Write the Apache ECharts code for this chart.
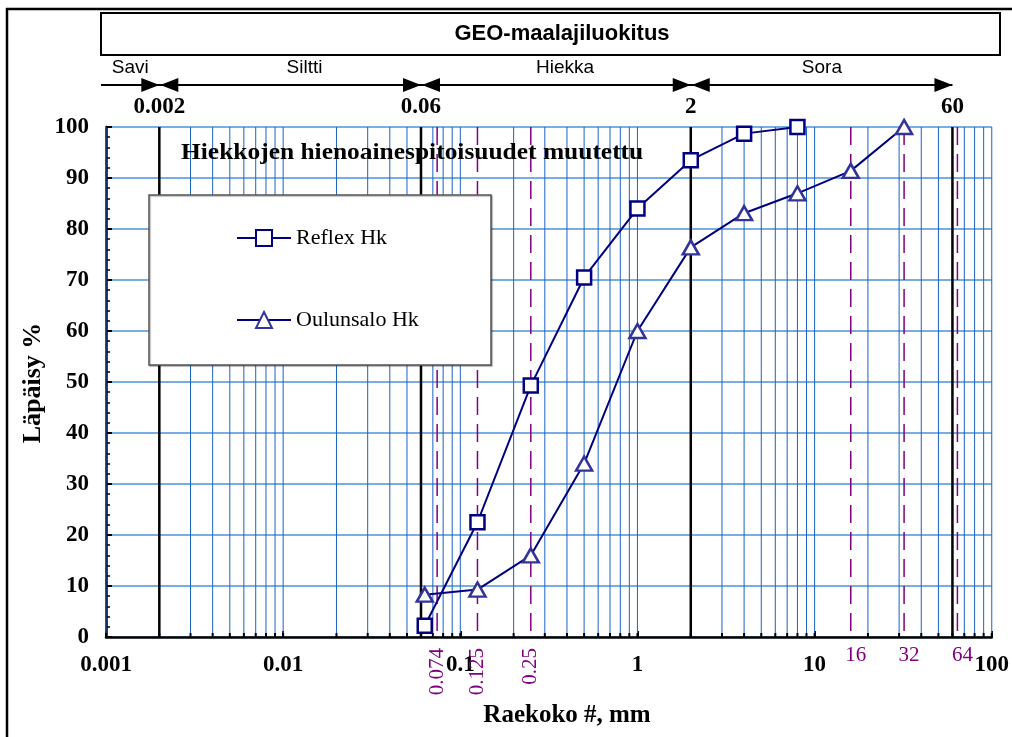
<!DOCTYPE html>
<html>
<head>
<meta charset="utf-8">
<script src="https://cdn.jsdelivr.net/npm/echarts@6/dist/echarts.min.js"></script>
<style>
html,body{margin:0;padding:0;background:#fff;}
#chart{width:1012px;height:737px;}
</style>
</head>
<body>
<div id="chart"></div>
<script>
// ---- data ----
const sieveSizes = [0.063, 0.125, 0.25, 0.5, 1, 2, 4, 8, 16, 32];
const reflexHk = [2.2, 22.5, 49.3, 70.5, 84, 93.5, 98.7, 100];
const oulunsaloHk = [8.3, 9.3, 16, 34, 60, 76.4, 83.1, 87, 91.4, 100];
const seriesNames = ['Reflex Hk', 'Oulunsalo Hk'];

// axis structure
const decades = [0.001, 0.01, 0.1, 1, 10];
const mantissas = [1, 2, 3, 4, 5, 6, 7, 8, 9];
const xTickLabels = ['0.001', '0.01', '0.1', '1', '10', '100'];
const yTickLabels = ['0', '10', '20', '30', '40', '50', '60', '70', '80', '90', '100'];

// classification (GEO)
const classBoundaries = [0.002, 0.06, 2, 60];
const classBoundaryLabels = ['0.002', '0.06', '2', '60'];
const classNames = ['Savi', 'Siltti', 'Hiekka', 'Sora'];
const classNamePos = [0.00137, 0.0132, 0.39, 11];

// sieve reference lines
const sieveRefValues = [0.074, 0.125, 0.25, 16, 32, 64];
const sieveRefLabels = ['0.074', '0.125', '0.25', '16', '32', '64'];
const sieveRefRotated = [true, true, true, false, false, false];

const gridValues = [];
decades.forEach(d => mantissas.forEach(m => gridValues.push(+(d * m).toPrecision(3))));
gridValues.push(100);

const SERIF = '"Liberation Serif","Times New Roman",serif';
const SANS = '"Liberation Sans",Arial,sans-serif';

const chart = echarts.init(document.getElementById('chart'));

function vline(color, width, dash, withTick) {
  return function (params, api) {
    const v = api.value(0);
    const top = api.coord([v, 100]);
    const bot = api.coord([v, 0]);
    const children = [{
      type: 'line',
      shape: {x1: top[0], y1: top[1], x2: bot[0], y2: bot[1]},
      style: {stroke: color, lineWidth: width, lineDash: dash || null}
    }];
    if (withTick) {
      children.push({
        type: 'line',
        shape: {x1: bot[0], y1: bot[1], x2: bot[0], y2: bot[1] - 4},
        style: {stroke: '#000', lineWidth: 2}
      });
    }
    return {type: 'group', children: children};
  };
}

const option = {
  animation: false,
  backgroundColor: '#fff',
  grid: {left: 106, right: 19, top: 127, bottom: 100, containLabel: false},
  xAxis: {
    type: 'log', logBase: 10, min: 0.001, max: 100,
    axisLine: {show: true, lineStyle: {color: '#000', width: 2.5}},
    axisTick: {show: true, inside: true, length: 6, lineStyle: {color: '#000', width: 2}},
    splitLine: {show: false},
    axisLabel: {
      margin: 17, color: '#000', fontFamily: SERIF, fontWeight: 'bold', fontSize: 23,
      formatter: function (v) {
        const i = Math.round(Math.log10(v)) + 3;
        return xTickLabels[i] !== undefined ? xTickLabels[i] : '';
      }
    }
  },
  yAxis: {
    type: 'value', min: 0, max: 100, interval: 10,
    axisLine: {show: true, lineStyle: {color: '#000', width: 2.5}},
    axisTick: {show: true, inside: true, length: 6, lineStyle: {color: '#000', width: 2}},
    minorTick: {show: true, splitNumber: 5, length: 4, lineStyle: {color: '#000', width: 1.5}},
    splitLine: {show: true, lineStyle: {color: '#7aaee2', width: 2}},
    axisLabel: {
      margin: 17, color: '#000', fontFamily: SERIF, fontWeight: 'bold', fontSize: 23,
      formatter: function (v) { return yTickLabels[Math.round(v / 10)]; }
    }
  },
  legend: {
    data: seriesNames,
    orient: 'vertical', left: 231, top: 222, itemGap: 60,
    itemWidth: 54, itemHeight: 20, z: 20,
    textStyle: {fontFamily: SERIF, fontSize: 22, color: '#000'}
  },
  series: [
    {
      type: 'custom', name: 'grid', silent: true, z: 1,
      renderItem: vline('#1c62c4', 1, null, true),
      data: gridValues.map(v => [v, 0]), clip: false
    },
    {
      type: 'custom', name: 'bounds', silent: true, z: 2,
      renderItem: vline('#000', 2.5, null, false),
      data: classBoundaries.map(v => [v, 0])
    },
    {
      type: 'custom', name: 'sieves', silent: true, z: 2,
      renderItem: vline('#800080', 1.5, [18, 9], false),
      data: sieveRefValues.map(v => [v, 0])
    },
    {
      type: 'line', name: seriesNames[0], z: 5,
      data: reflexHk.map((y, i) => [sieveSizes[i], y]),
      symbol: 'rect', symbolSize: 14, showSymbol: true,
      lineStyle: {color: '#000080', width: 2},
      itemStyle: {color: '#fff', borderColor: '#000080', borderWidth: 2.5}
    },
    {
      type: 'line', name: seriesNames[1], z: 5,
      data: oulunsaloHk.map((y, i) => [sieveSizes[i], y]),
      symbol: 'triangle', symbolSize: [16, 14], showSymbol: true,
      lineStyle: {color: '#000080', width: 2},
      itemStyle: {color: '#fff', borderColor: '#333399', borderWidth: 2.5}
    }
  ]
};
chart.setOption(option);

function px(v) { return chart.convertToPixel({xAxisIndex: 0}, v); }

const g = [];
// outer frame
g.push({type: 'rect', shape: {x: 7, y: 9, width: 1200, height: 900}, style: {fill: null, stroke: '#000', lineWidth: 2.5}, z: 0, silent: true});
// title box
g.push({type: 'rect', shape: {x: 101, y: 13, width: 899, height: 42}, style: {fill: '#fff', stroke: '#000', lineWidth: 2}, z: 5});
g.push({type: 'text', x: 562, y: 34, style: {text: 'GEO-maalajiluokitus', font: 'bold 22px ' + SANS, fill: '#000', align: 'center', verticalAlign: 'middle'}, z: 6});
// arrow line
const arrowY = 85;
const lastB = px(classBoundaries[classBoundaries.length - 1]);
g.push({type: 'line', shape: {x1: 101, y1: arrowY, x2: lastB, y2: arrowY}, style: {stroke: '#000', lineWidth: 2}, z: 5});
classBoundaries.forEach((b, i) => {
  const bx = px(b);
  g.push({type: 'polygon', shape: {points: [[bx - 18, arrowY - 7], [bx, arrowY], [bx - 18, arrowY + 7]]}, style: {fill: '#000'}, z: 6});
  if (i < classBoundaries.length - 1) {
    g.push({type: 'polygon', shape: {points: [[bx + 19, arrowY - 7], [bx + 1, arrowY], [bx + 19, arrowY + 7]]}, style: {fill: '#000'}, z: 6});
  }
  g.push({type: 'text', x: bx, y: 107, style: {text: classBoundaryLabels[i], font: 'bold 23px ' + SERIF, fill: '#000', align: 'center', verticalAlign: 'middle'}, z: 6});
});
classNames.forEach((n, i) => {
  g.push({type: 'text', x: px(classNamePos[i]), y: 68, style: {text: n, font: '19px ' + SANS, fill: '#000', align: 'center', verticalAlign: 'middle'}, z: 6});
});
// sieve labels
sieveRefValues.forEach((v, i) => {
  const x = px(v);
  if (sieveRefRotated[i]) {
    g.push({type: 'text', x: x, y: 648, rotation: Math.PI / 2, style: {text: sieveRefLabels[i], font: '21px ' + SERIF, fill: '#800080', align: 'right', verticalAlign: 'middle'}, z: 6});
  } else {
    g.push({type: 'text', x: x + 5, y: 655, style: {text: sieveRefLabels[i], font: '21px ' + SERIF, fill: '#800080', align: 'center', verticalAlign: 'middle'}, z: 6});
  }
});
// axis names
g.push({type: 'text', x: 567, y: 716, style: {text: 'Raekoko #, mm', font: 'bold 25px ' + SERIF, fill: '#000', align: 'center', verticalAlign: 'middle'}, z: 6});
g.push({type: 'text', x: 33, y: 383, rotation: Math.PI / 2, style: {text: 'Läpäisy %', font: 'bold 26px ' + SERIF, fill: '#000', align: 'center', verticalAlign: 'middle'}, z: 6});
// annotation
g.push({type: 'text', x: 181, y: 153, scaleX: 1.06, style: {text: 'Hiekkojen hienoainespitoisuudet muutettu', font: 'bold 24px ' + SERIF, fill: '#000', align: 'left', verticalAlign: 'middle'}, z: 6});
// legend box
g.push({type: 'rect', shape: {x: 149, y: 195, width: 342, height: 170}, style: {fill: '#fff', stroke: '#555', lineWidth: 1.5, shadowColor: 'rgba(0,0,0,0.3)', shadowOffsetX: 1, shadowOffsetY: 1, shadowBlur: 1}, z: 10});

chart.setOption({graphic: {elements: g}});
</script>
</body>
</html>
